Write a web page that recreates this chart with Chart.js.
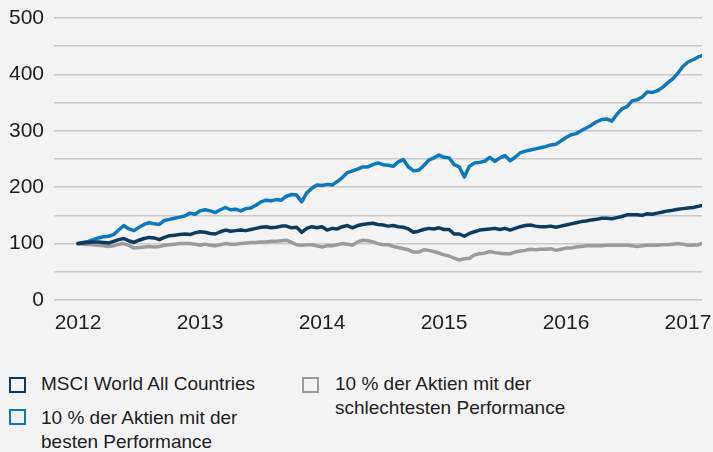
<!DOCTYPE html>
<html>
<head>
<meta charset="utf-8">
<script src="https://cdn.jsdelivr.net/npm/chart.js@4/dist/chart.umd.min.js"></script>
<style>
  body {
    margin: 0;
    width: 713px;
    height: 452px;
    overflow: hidden;
    position: relative;
    background: #f3f3f3;
    font-family: "Liberation Sans", Arial, sans-serif;
    color: #1e1e1e;
  }
  #wrap { position: absolute; left: 0; top: 0; width: 713px; height: 345px; }
  .item { position: absolute; font-size: 19px; line-height: 24px; white-space: nowrap; }
  .box { position: absolute; width: 17px; height: 16px; box-sizing: border-box; border: 2.5px solid; }
</style>
</head>
<body>
<div id="wrap"><canvas id="chart"></canvas></div>
<div id="legend"></div>
<script>
// half-monthly index values, start of 2012 = 100
const yearTicks = [2012, 2013, 2014, 2015, 2016, 2017];

const msciWorld = [
  100, 101, 102, 103, 103, 102, 101, 104, 107, 109, 105, 102, 106, 109, 111, 110, 107, 111, 114, 115, 116, 117, 116, 119, 121, 120, 118, 117, 121, 124,
  122, 123, 124, 123, 125, 127, 129, 130, 128, 129, 131, 131, 128, 129, 120, 127, 130, 128, 130, 124, 127, 126, 130, 132, 128, 132, 134, 135, 136, 134, 133,
  131, 132, 130, 129, 126, 120, 122, 125, 127, 126, 128, 125, 125, 117, 117, 113, 118, 121, 124, 125, 126, 127, 125, 127, 124, 127, 130, 132, 133, 131,
  130, 130, 131, 129, 131, 133, 135, 137, 139, 140, 142, 143, 145, 145, 144, 146, 148, 151, 151, 151, 150, 153, 152, 154, 156, 158, 159, 161, 162, 163, 164, 166, 168
];

const topDecile = [
  100, 102, 104, 107, 110, 112, 113, 116, 124, 132, 126, 123, 129, 134, 137, 135, 134, 141, 143, 145, 147, 149, 154, 152, 158, 160, 158, 155, 160, 164,
  160, 161, 158, 162, 163, 168, 174, 177, 176, 178, 177, 184, 187, 186, 174, 190, 198, 204, 203, 205, 204, 210, 217, 226, 229, 232, 236, 236, 240, 243, 240,
  239, 237, 245, 249, 236, 229, 230, 238, 248, 252, 257, 253, 252, 240, 236, 218, 237, 243, 244, 246, 253, 246, 252, 256, 247, 253, 261, 264, 266, 268,
  270, 272, 275, 276, 282, 288, 293, 295, 300, 305, 310, 316, 320, 321, 317, 329, 339, 343, 353, 355, 360, 369, 368, 371, 377, 385, 392, 402, 414, 422, 426, 431, 434
];

const bottomDecile = [
  100, 99, 98.5, 98, 97, 96, 95, 96, 99, 100, 97, 92, 93, 94, 95, 94, 95, 97, 98, 99, 100, 100, 100, 99, 97, 99, 97, 96, 98, 100,
  99, 99, 100, 101, 102, 102, 103, 103, 104, 104, 105, 106, 102, 98, 97, 98, 98, 96, 94, 96, 96, 98, 100, 99, 97, 103, 106, 105, 103, 100, 98,
  98, 95, 93, 91, 89, 85, 85, 89, 88, 86, 83, 80, 78, 74, 71, 73, 74, 80, 82, 83, 86, 84, 83, 82, 82, 85, 87, 88, 90, 89,
  90, 90, 91, 88, 90, 92, 92, 94, 95, 96, 96, 96, 96, 97, 97, 97, 97, 97, 96, 95, 96, 97, 97, 97, 98, 98, 99, 100, 99, 97, 97, 98, 101
];

const seriesLabels = [
  ['MSCI World All Countries'],
  ['10 % der Aktien mit der', 'besten Performance'],
  ['10 % der Aktien mit der', 'schlechtesten Performance']
];
const seriesColors = ['#0d3b5f', '#0a79bf', '#9b9b9b'];

const toPoints = (vals) => vals.map((v, i) => ({ x: 2012 + i / 24, y: v }));

const tickFont = { family: '"Liberation Sans", Arial, sans-serif', size: 21 };

const series = [msciWorld, topDecile, bottomDecile];

// keep the plot box fixed: no extra room for overhanging tick labels
function noOverhang(scale) {
  scale.paddingTop = 0;
  scale.paddingBottom = 0;
  scale.paddingLeft = 0;
  scale.paddingRight = 0;
}

new Chart(document.getElementById('chart'), {
  type: 'line',
  data: {
    datasets: series.map((vals, k) => ({
      label: seriesLabels[k].join(' '),
      data: toPoints(vals),
      borderColor: seriesColors[k],
      borderWidth: 3.5,
      pointRadius: 0,
      tension: 0,
      borderJoinStyle: 'round',
      borderCapStyle: 'round'
    }))
  },
  options: {
    responsive: true,
    maintainAspectRatio: false,
    animation: false,
    layout: { padding: { top: 18, right: 11, left: 0, bottom: 0 } },
    scales: {
      x: {
        type: 'linear',
        min: 2011.803,
        max: 2017.115,
        afterBuildTicks: (scale) => { scale.ticks = yearTicks.map((v) => ({ value: v })); },
        afterFit: (scale) => { scale.height = 45; noOverhang(scale); },
        grid: { display: false },
        border: { display: false },
        ticks: {
          autoSkip: false,
          maxRotation: 0,
          padding: 3,
          color: '#1e1e1e',
          font: tickFont,
          callback: (v) => String(v)
        }
      },
      y: {
        min: 0,
        max: 500,
        afterFit: (scale) => { scale.width = 54; noOverhang(scale); },
        grid: { color: '#c9c9c9', lineWidth: 1.5, drawTicks: false },
        border: { display: false },
        ticks: {
          stepSize: 50,
          padding: 10,
          color: '#1e1e1e',
          font: tickFont,
          callback: (v) => (v % 100 === 0 ? v : '')
        }
      }
    },
    plugins: {
      legend: { display: false },
      tooltip: { enabled: false }
    }
  }
});

// legend below the plot, two columns
const legendPos = [
  { box: [9, 377], text: [41, 372] },
  { box: [9, 409], text: [41, 406] },
  { box: [302, 377], text: [335, 372] }
];
const legend = document.getElementById('legend');
seriesLabels.forEach((lines, k) => {
  const p = legendPos[k];
  const box = document.createElement('div');
  box.className = 'box';
  box.style.left = p.box[0] + 'px';
  box.style.top = p.box[1] + 'px';
  box.style.borderColor = seriesColors[k];
  legend.appendChild(box);
  const txt = document.createElement('div');
  txt.className = 'item';
  txt.style.left = p.text[0] + 'px';
  txt.style.top = p.text[1] + 'px';
  txt.innerHTML = lines.join('<br>');
  legend.appendChild(txt);
});
</script>
</body>
</html>
